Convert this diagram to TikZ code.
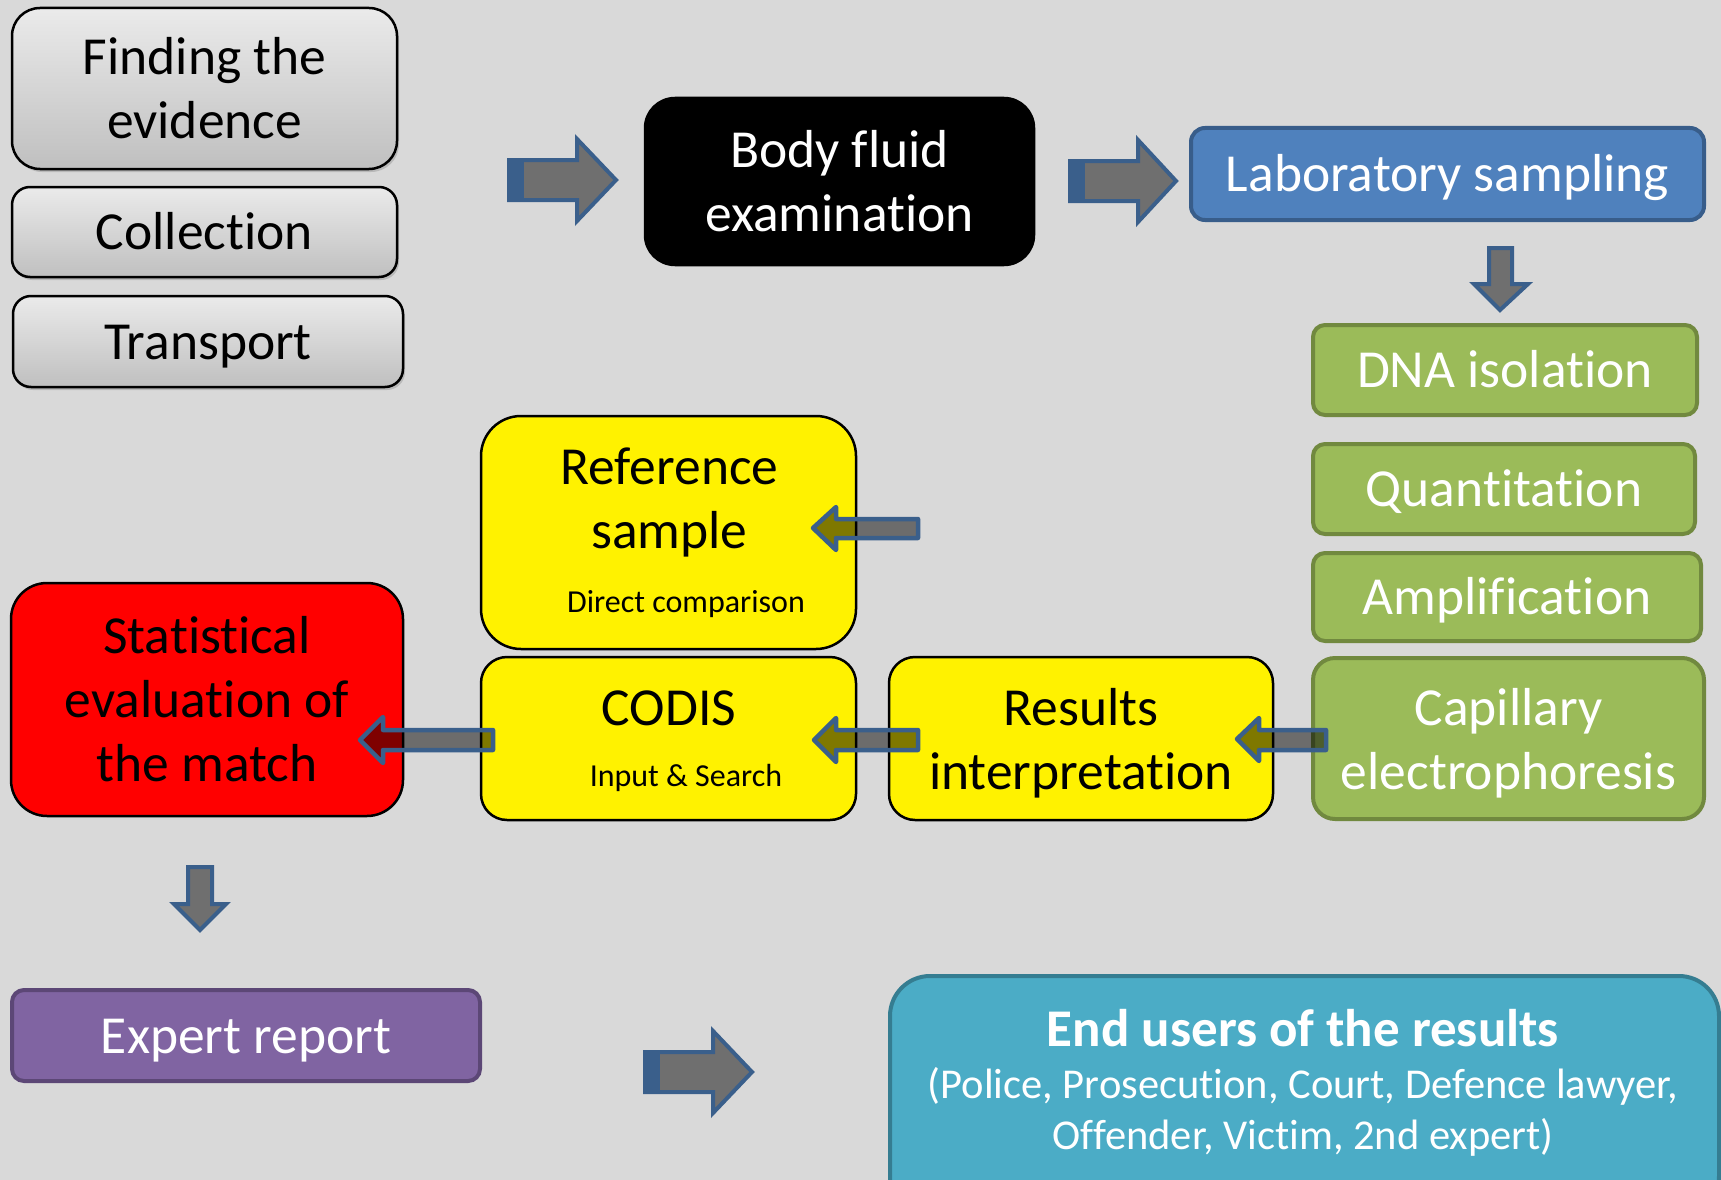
\documentclass[tikz,border=0pt]{standalone}
\usepackage{fontspec}
\setmainfont[Ligatures=NoCommon]{Carlito}
\usetikzlibrary{shadows}
\definecolor{bgc}{HTML}{D9D9D9}
\definecolor{blueF}{HTML}{4F81BD}
\definecolor{blueD}{HTML}{385D8A}
\definecolor{greenF}{HTML}{9BBB59}
\definecolor{greenD}{HTML}{71893F}
\definecolor{purpF}{HTML}{8064A2}
\definecolor{purpD}{HTML}{5C4776}
\definecolor{cyanF}{HTML}{4BACC6}
\definecolor{cyanD}{HTML}{357D91}
\definecolor{arrB}{HTML}{3A5F8B}
\definecolor{arrG}{HTML}{6F6F6F}
\begin{document}
\begin{tikzpicture}[x=1pt,y=-1pt,
  big/.style={font=\fontsize{53.5}{64}\selectfont, align=center},
  oneline/.style={text height=35pt, text depth=0pt},
  small/.style={font=\fontsize{32}{38}\selectfont},
  graybox/.style={draw=black, line width=2.5pt, top color=white!92!black, bottom color=white!75!black,
     drop shadow={opacity=0.35, shadow xshift=2pt, shadow yshift=-3pt}, big, inner sep=0pt},
  blackbox/.style={draw=black, fill=black, text=white, line width=2.5pt, big, inner sep=0pt},
  bluebox/.style={draw=blueD, fill=blueF, text=white, line width=4pt, big, inner sep=0pt},
  greenbox/.style={draw=greenD, fill=greenF, text=white, line width=4pt, big, inner sep=0pt},
  yellowbox/.style={draw=black, fill=yellow, line width=2.5pt, inner sep=0pt},
  redbox/.style={draw=black, fill=red, line width=2.5pt, big, inner sep=0pt},
  purpbox/.style={draw=purpD, fill=purpF, text=white, line width=4pt, big, inner sep=0pt},
  cyanbox/.style={draw=cyanD, fill=cyanF, line width=4pt, inner sep=0pt},
  solidarrow/.style={draw=arrB, fill=arrG, line width=4pt, line join=miter},
  glassarrow/.style={draw=arrB, fill=black, fill opacity=0.5, draw opacity=1, line width=4.5pt, line join=round}
]
\useasboundingbox (0,0) rectangle (1721,1180);
\fill[bgc] (0,0) rectangle (1721,1180);

% grey boxes
\node[graybox, rounded corners=28pt, minimum width=385pt, minimum height=161pt] (find) at (204.5,88.5) {Finding the\\evidence};
\node[graybox, oneline, rounded corners=18pt, minimum width=385pt, minimum height=90pt] (coll) at (204.5,232) {Collection};
\node[graybox, oneline, rounded corners=18pt, minimum width=390pt, minimum height=91pt] (trans) at (208,341.5) {Transport};

% top row
\node[blackbox, rounded corners=30pt, minimum width=389pt, minimum height=167pt] (body) at (839.5,181.5) {Body fluid\\examination};
\node[bluebox, oneline, rounded corners=14pt, minimum width=513pt, minimum height=92pt] (lab) at (1447.5,174) {Laboratory sampling};

% green column
\node[greenbox, oneline, rounded corners=12pt, minimum width=384pt, minimum height=90pt] (dna) at (1505,370) {DNA isolation};
\node[greenbox, oneline, rounded corners=12pt, minimum width=382pt, minimum height=90pt] (quant) at (1504,489) {Quantitation};
\node[greenbox, oneline, rounded corners=12pt, minimum width=388pt, minimum height=88pt] (ampl) at (1507,597) {Amplification};
\node[greenbox, rounded corners=22pt, minimum width=391pt, minimum height=161pt] (cap) at (1508.5,738.5) {};
\node[big, text=white] (capt) at (1508.5,743) {Capillary\\electrophoresis};

% yellow boxes
\node[yellowbox, rounded corners=26pt, minimum width=384pt, minimum height=163pt] (res) at (1081,738.5) {};
\node[big] (rest) at (1081,743) {Results\\interpretation};
\node[yellowbox, rounded corners=26pt, minimum width=375pt, minimum height=163pt] (codis) at (668.5,738.5) {};
\node[big] (codist) at (669,708) {CODIS};
\node[small] (codiss) at (686,778) {Input \& Search};
\node[yellowbox, rounded corners=40pt, minimum width=375pt, minimum height=233pt] (ref) at (668.5,532.5) {};
\node[big] (reft) at (669.5,502.5) {Reference\\sample};
\node[small] (refs) at (686,604) {Direct comparison};

% red box
\node[redbox, rounded corners=36pt, minimum width=392pt, minimum height=233pt] (stat) at (207,699.5) {Statistical\\evaluation of\\the match};

% expert report
\node[purpbox, oneline, rounded corners=12pt, minimum width=468pt, minimum height=91pt] (expert) at (246,1035.5) {Expert report};

% end users
\node[cyanbox, rounded corners=40pt, minimum width=829pt, minimum height=240pt, anchor=north west] (endu) at (888,974) {};
\node[anchor=base, text=white, font=\fontsize{53}{64}\selectfont\bfseries] (endt) at (1303,1046) {End users of the results};
\node[anchor=base, text=white, font=\fontsize{42.5}{50}\selectfont] (end2) at (1303,1098) {(Police, Prosecution, Court, Defence lawyer,};
\node[anchor=base, text=white, font=\fontsize{42.5}{50}\selectfont] (end3) at (1303,1149) {Offender, Victim, 2nd expert)};

% solid right arrows
\draw[solidarrow] (509,160) -- (577,160) -- (577,139) -- (616,180) -- (577,221) -- (577,200) -- (509,200) -- cycle;
\fill[arrB] (507,158) rectangle (524,202);
\draw[solidarrow] (1070,161) -- (1138,161) -- (1138,140) -- (1176,181) -- (1138,222) -- (1138,201) -- (1070,201) -- cycle;
\fill[arrB] (1068,159) rectangle (1085,203);
\draw[solidarrow] (645,1052) -- (713,1052) -- (713,1031) -- (752,1072) -- (713,1113) -- (713,1092) -- (645,1092) -- cycle;
\fill[arrB] (643,1050) rectangle (660,1094);

% solid down arrows
\draw[solidarrow] (1489,248) -- (1512,248) -- (1512,284) -- (1528,284) -- (1500,310) -- (1474,284) -- (1489,284) -- cycle;
\draw[solidarrow] (188,867) -- (212,867) -- (212,904) -- (226,904) -- (200,930) -- (174,904) -- (188,904) -- cycle;

% glass left arrows
\draw[glassarrow] (918,519) -- (836,519) -- (836,507) -- (813,528) -- (836,550) -- (836,538) -- (918,538) -- cycle;
\draw[glassarrow] (918,730) -- (836,730) -- (836,718) -- (814,740) -- (836,762) -- (836,750) -- (918,750) -- cycle;
\draw[glassarrow] (493,730) -- (383,730) -- (383,717) -- (360,740) -- (383,763) -- (383,750) -- (493,750) -- cycle;
\draw[glassarrow] (1326,730) -- (1259,730) -- (1259,718) -- (1237,739) -- (1259,761) -- (1259,750) -- (1326,750) -- cycle;
\end{tikzpicture}
\end{document}
